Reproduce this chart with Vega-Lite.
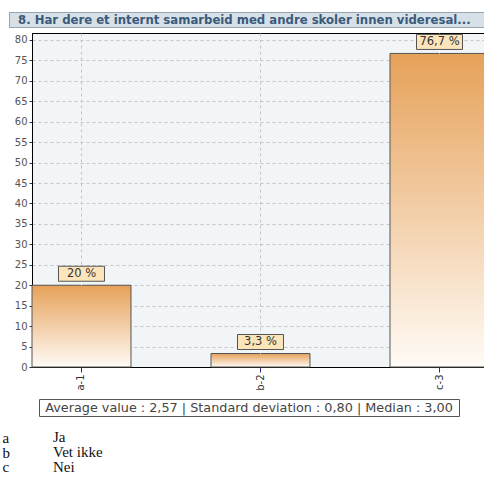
{
  "$schema": "https://vega.github.io/schema/vega-lite/v6.json",
  "padding": {"left": 1, "top": 11, "right": 0, "bottom": 0},
  "spacing": 4,
  "config": {"font": "DejaVu Sans", "view": {"stroke": null}},
  "vconcat": [
    {
      "spacing": 0,
      "hconcat": [
        {"width": 7, "height": 1, "data": {"values": []}, "mark": "point"},
        {
          "width": 485,
          "height": 15,
          "view": {"fill": "#d8e0e7", "stroke": "#95a5b4"},
          "data": {"values": [{"question": "8. Har dere et internt samarbeid med andre skoler innen videresal..."}]},
          "mark": {"type": "text", "align": "left", "baseline": "middle", "x": 9, "fontWeight": "bold", "fontSize": 11.7, "color": "#3a5a7c"},
          "encoding": {"text": {"field": "question", "type": "nominal"}}
        }
      ]
    },
    {
      "spacing": 7,
      "vconcat": [
        {
          "spacing": 0,
          "hconcat": [
            {"width": 12, "height": 1, "data": {"values": []}, "mark": "point"},
            {
              "width": 457,
              "height": 334,
              "view": {"fill": "#f1f5f8", "stroke": "#000000"},
              "data": {
                "values": [
                  {"answer": "a-1", "share": 20, "label": "20 %"},
                  {"answer": "b-2", "share": 3.3, "label": "3,3 %"},
                  {"answer": "c-3", "share": 76.7, "label": "76,7 %"}
                ]
              },
              "encoding": {
                "x": {
                  "field": "answer",
                  "type": "nominal",
                  "sort": null,
                  "scale": {"paddingInner": 0.447, "paddingOuter": 0},
                  "axis": {
                    "title": null,
                    "labelAngle": 270,
                    "labelFontSize": 10,
                    "labelColor": "#333333",
                    "tickColor": "#2b2b8a",
                    "tickSize": 5,
                    "labelPadding": 2,
                    "domainColor": "#000000",
                    "grid": true,
                    "gridDash": [3, 3],
                    "gridColor": "#c4c4c4"
                  }
                },
                "y": {
                  "field": "share",
                  "type": "quantitative",
                  "scale": {"domain": [0, 81.7], "nice": false},
                  "axis": {
                    "title": null,
                    "values": [0, 5, 10, 15, 20, 25, 30, 35, 40, 45, 50, 55, 60, 65, 70, 75, 80],
                    "labelFontSize": 10,
                    "labelColor": "#555555",
                    "tickColor": "#333333",
                    "tickSize": 3,
                    "labelPadding": 2,
                    "domainColor": "#000000",
                    "gridDash": [3, 3],
                    "gridColor": "#c4c4c4"
                  }
                }
              },
              "layer": [
                {
                  "mark": {
                    "type": "bar",
                    "stroke": "#555555",
                    "strokeWidth": 1,
                    "fill": {
                      "gradient": "linear",
                      "x1": 0, "y1": 0, "x2": 0, "y2": 1,
                      "stops": [
                        {"offset": 0, "color": "#e6a159"},
                        {"offset": 1, "color": "#fffbf6"}
                      ]
                    }
                  }
                },
                {
                  "mark": {"type": "rule", "color": "#ffffff", "strokeWidth": 1, "yOffset": -5},
                  "encoding": {"y2": {"field": "share"}}
                },
                {
                  "mark": {
                    "type": "bar",
                    "width": 46,
                    "fill": "#fde5bb",
                    "stroke": "#555555",
                    "strokeWidth": 1,
                    "yOffset": -19,
                    "y2Offset": -4
                  },
                  "encoding": {"y2": {"field": "share"}}
                },
                {
                  "mark": {"type": "text", "fontSize": 11.5, "color": "#333333", "baseline": "middle", "yOffset": -11.5},
                  "encoding": {"text": {"field": "label", "type": "nominal"}}
                }
              ]
            }
          ]
        },
        {
          "spacing": 0,
          "hconcat": [
            {"width": 37, "height": 1, "data": {"values": []}, "mark": "point"},
            {
              "width": 420,
              "height": 17,
              "view": {"fill": "#ffffff", "stroke": "#555555"},
              "data": {"values": [{"summary": "Average value : 2,57 | Standard deviation : 0,80 | Median : 3,00"}]},
              "mark": {"type": "text", "fontSize": 12.8, "color": "#444444", "baseline": "middle"},
              "encoding": {"text": {"field": "summary", "type": "nominal"}}
            }
          ]
        },
        {
          "spacing": 0,
          "hconcat": [
            {"width": 1, "height": 1, "data": {"values": []}, "mark": "point"},
            {
              "width": 380,
              "height": 56,
              "data": {
                "values": [
                  {"code": "a", "option": "Ja"},
                  {"code": "b", "option": "Vet ikke"},
                  {"code": "c", "option": "Nei"}
                ]
              },
              "mark": {"type": "text", "align": "left", "baseline": "middle", "x": 0, "font": "Liberation Serif", "fontSize": 15, "color": "#111111"},
              "encoding": {
                "y": {
                  "field": "code",
                  "type": "nominal",
                  "sort": null,
                  "scale": {"type": "point", "padding": 0.867},
                  "axis": {
                    "title": null,
                    "ticks": false,
                    "domain": false,
                    "labelAlign": "left",
                    "labelBaseline": "middle",
                    "labelPadding": 51,
                    "labelFont": "Liberation Serif",
                    "labelFontSize": 15,
                    "labelColor": "#111111"
                  }
                },
                "text": {"field": "option", "type": "nominal"}
              }
            }
          ]
        }
      ]
    }
  ]
}
